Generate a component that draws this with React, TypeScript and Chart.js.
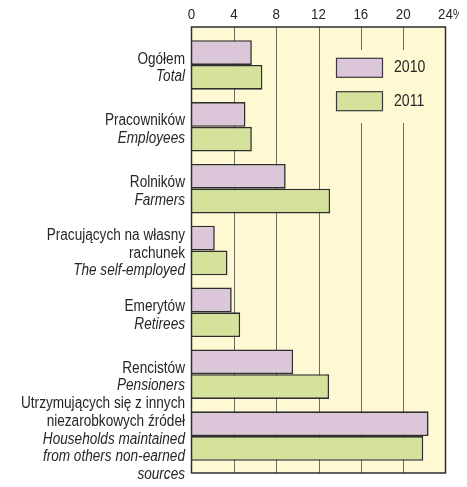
import React, { useEffect, useRef } from "react";
import { Chart, registerables } from "chart.js";

Chart.register(...registerables);

const categoriesPl: string[][] = [
  ["Ogółem"],
  ["Pracowników"],
  ["Rolników"],
  ["Pracujących na własny", "rachunek"],
  ["Emerytów"],
  ["Rencistów"],
  ["Utrzymujących się z innych", "niezarobkowych źródeł"],
];
const categoriesEn: string[][] = [
  ["Total"],
  ["Employees"],
  ["Farmers"],
  ["The self-employed"],
  ["Retirees"],
  ["Pensioners"],
  ["Households maintained", "from others non-earned", "sources"],
];
const values2010 = [5.7, 5.1, 8.9, 2.2, 3.8, 9.6, 22.4];
const values2011 = [6.7, 5.7, 13.1, 3.4, 4.6, 13.0, 21.9];
const tickValues = [0, 4, 8, 12, 16, 20, 24];
const seriesLabels = ["2010", "2011"];

const FONT = '"Liberation Sans", Arial, sans-serif';
const COLORS = ["#dcc6d9", "#d4e29b"];
const CREAM = "#fff9d3";
const BORDER = "#2e2e2e";
const TEXT = "#262626";

function narrowText(ctx: CanvasRenderingContext2D, text: string, x: number, y: number, sx: number, align: CanvasTextAlign) {
  ctx.save();
  ctx.translate(x, y);
  ctx.scale(sx, 1);
  ctx.textAlign = align;
  ctx.fillText(text, 0, 0);
  ctx.restore();
}

const decorPlugin = {
  id: "decor",
  beforeDatasetsDraw(chart: any) {
    const { ctx, chartArea: a, scales } = chart;
    const x = scales.x;
    const y = scales.y;
    const top = a.top - 7;
    const bottom = a.bottom + 6;
    ctx.save();
    // background
    ctx.fillStyle = CREAM;
    ctx.fillRect(a.left, top, a.right - a.left, bottom - top);
    // grid lines
    ctx.strokeStyle = "#6a6a62";
    ctx.lineWidth = 1;
    tickValues.forEach((v) => {
      if (v === tickValues[0] || v === tickValues[tickValues.length - 1]) return;
      const px = Math.round(x.getPixelForValue(v)) + 0.5;
      ctx.beginPath();
      ctx.moveTo(px, top);
      ctx.lineTo(px, bottom);
      ctx.stroke();
    });
    // legend box background (hides grid lines)
    ctx.fillStyle = CREAM;
    ctx.fillRect(a.right - 120, a.top + 16, 115, 73);
    // x tick labels
    ctx.fillStyle = TEXT;
    ctx.font = `15.5px ${FONT}`;
    ctx.textBaseline = "middle";
    const sxT = 0.86;
    tickValues.forEach((v, i) => {
      const px = x.getPixelForValue(v);
      const s = String(v);
      narrowText(ctx, s, px, a.top - 19, sxT, "center");
      if (i === tickValues.length - 1) {
        const w = ctx.measureText(s).width * sxT;
        narrowText(ctx, "%", px + w / 2, a.top - 19, sxT * 0.85, "left");
      }
    });
    // y labels
    const lh = 17.5;
    categoriesPl.forEach((pl, i) => {
      const lines = [
        ...pl.map((t) => ({ t, it: false })),
        ...categoriesEn[i].map((t) => ({ t, it: true })),
      ];
      const cy = y.getPixelForValue(i) + 3;
      const start = cy - ((lines.length - 1) / 2) * lh;
      lines.forEach((ln, k) => {
        ctx.font = `${ln.it ? "italic " : ""}16px ${FONT}`;
        narrowText(ctx, ln.t, a.left - 6.5, start + k * lh, 0.85, "right");
      });
    });
    ctx.restore();
  },
  afterDatasetsDraw(chart: any) {
    const { ctx, chartArea: a } = chart;
    const top = a.top - 7;
    const bottom = a.bottom + 6;
    ctx.save();
    ctx.strokeStyle = BORDER;
    ctx.lineWidth = 1.5;
    ctx.strokeRect(a.left, top, a.right - a.left, bottom - top);
    // legend
    const sx = a.right - 109;
    const sw = 46;
    const sh = 19;
    const sys = [a.top + 24.3, a.top + 57.7];
    seriesLabels.forEach((lab, i) => {
      ctx.fillStyle = COLORS[i];
      ctx.fillRect(sx, sys[i], sw, sh);
      ctx.strokeStyle = "#3a3a3a";
      ctx.lineWidth = 1.2;
      ctx.strokeRect(sx, sys[i], sw, sh);
      ctx.fillStyle = TEXT;
      ctx.font = `16px ${FONT}`;
      ctx.textBaseline = "middle";
      narrowText(ctx, lab, a.right - 51.5, sys[i] + sh / 2, 0.88, "left");
    });
    ctx.restore();
  },
};

export default function App() {
  const ref = useRef<HTMLCanvasElement | null>(null);
  useEffect(() => {
    if (!ref.current) return;
    const chart = new Chart(ref.current, {
      type: "bar",
      data: {
        labels: categoriesPl.map((c) => c.join(" ")),
        datasets: [
          {
            label: seriesLabels[0],
            data: values2010,
            backgroundColor: COLORS[0],
            borderColor: BORDER,
            borderWidth: 1.6,
            categoryPercentage: 0.8,
            barPercentage: 1.0,
          },
          {
            label: seriesLabels[1],
            data: values2011,
            backgroundColor: COLORS[1],
            borderColor: BORDER,
            borderWidth: 1.6,
            categoryPercentage: 0.8,
            barPercentage: 1.0,
          },
        ],
      },
      options: {
        indexAxis: "y",
        responsive: false,
        animation: false,
        layout: { padding: { left: 191.5, right: 21.5, top: 26, bottom: 12 } },
        plugins: { legend: { display: false }, tooltip: { enabled: false } },
        scales: {
          x: { type: "linear", min: 0, max: 24, display: false },
          y: { type: "category", display: false },
        },
      },
      plugins: [decorPlugin],
    });
    return () => chart.destroy();
  }, []);
  return (
    <canvas
      ref={ref}
      width={467}
      height={471}
      style={{ display: "block", marginLeft: -8 }}
    />
  );
}
